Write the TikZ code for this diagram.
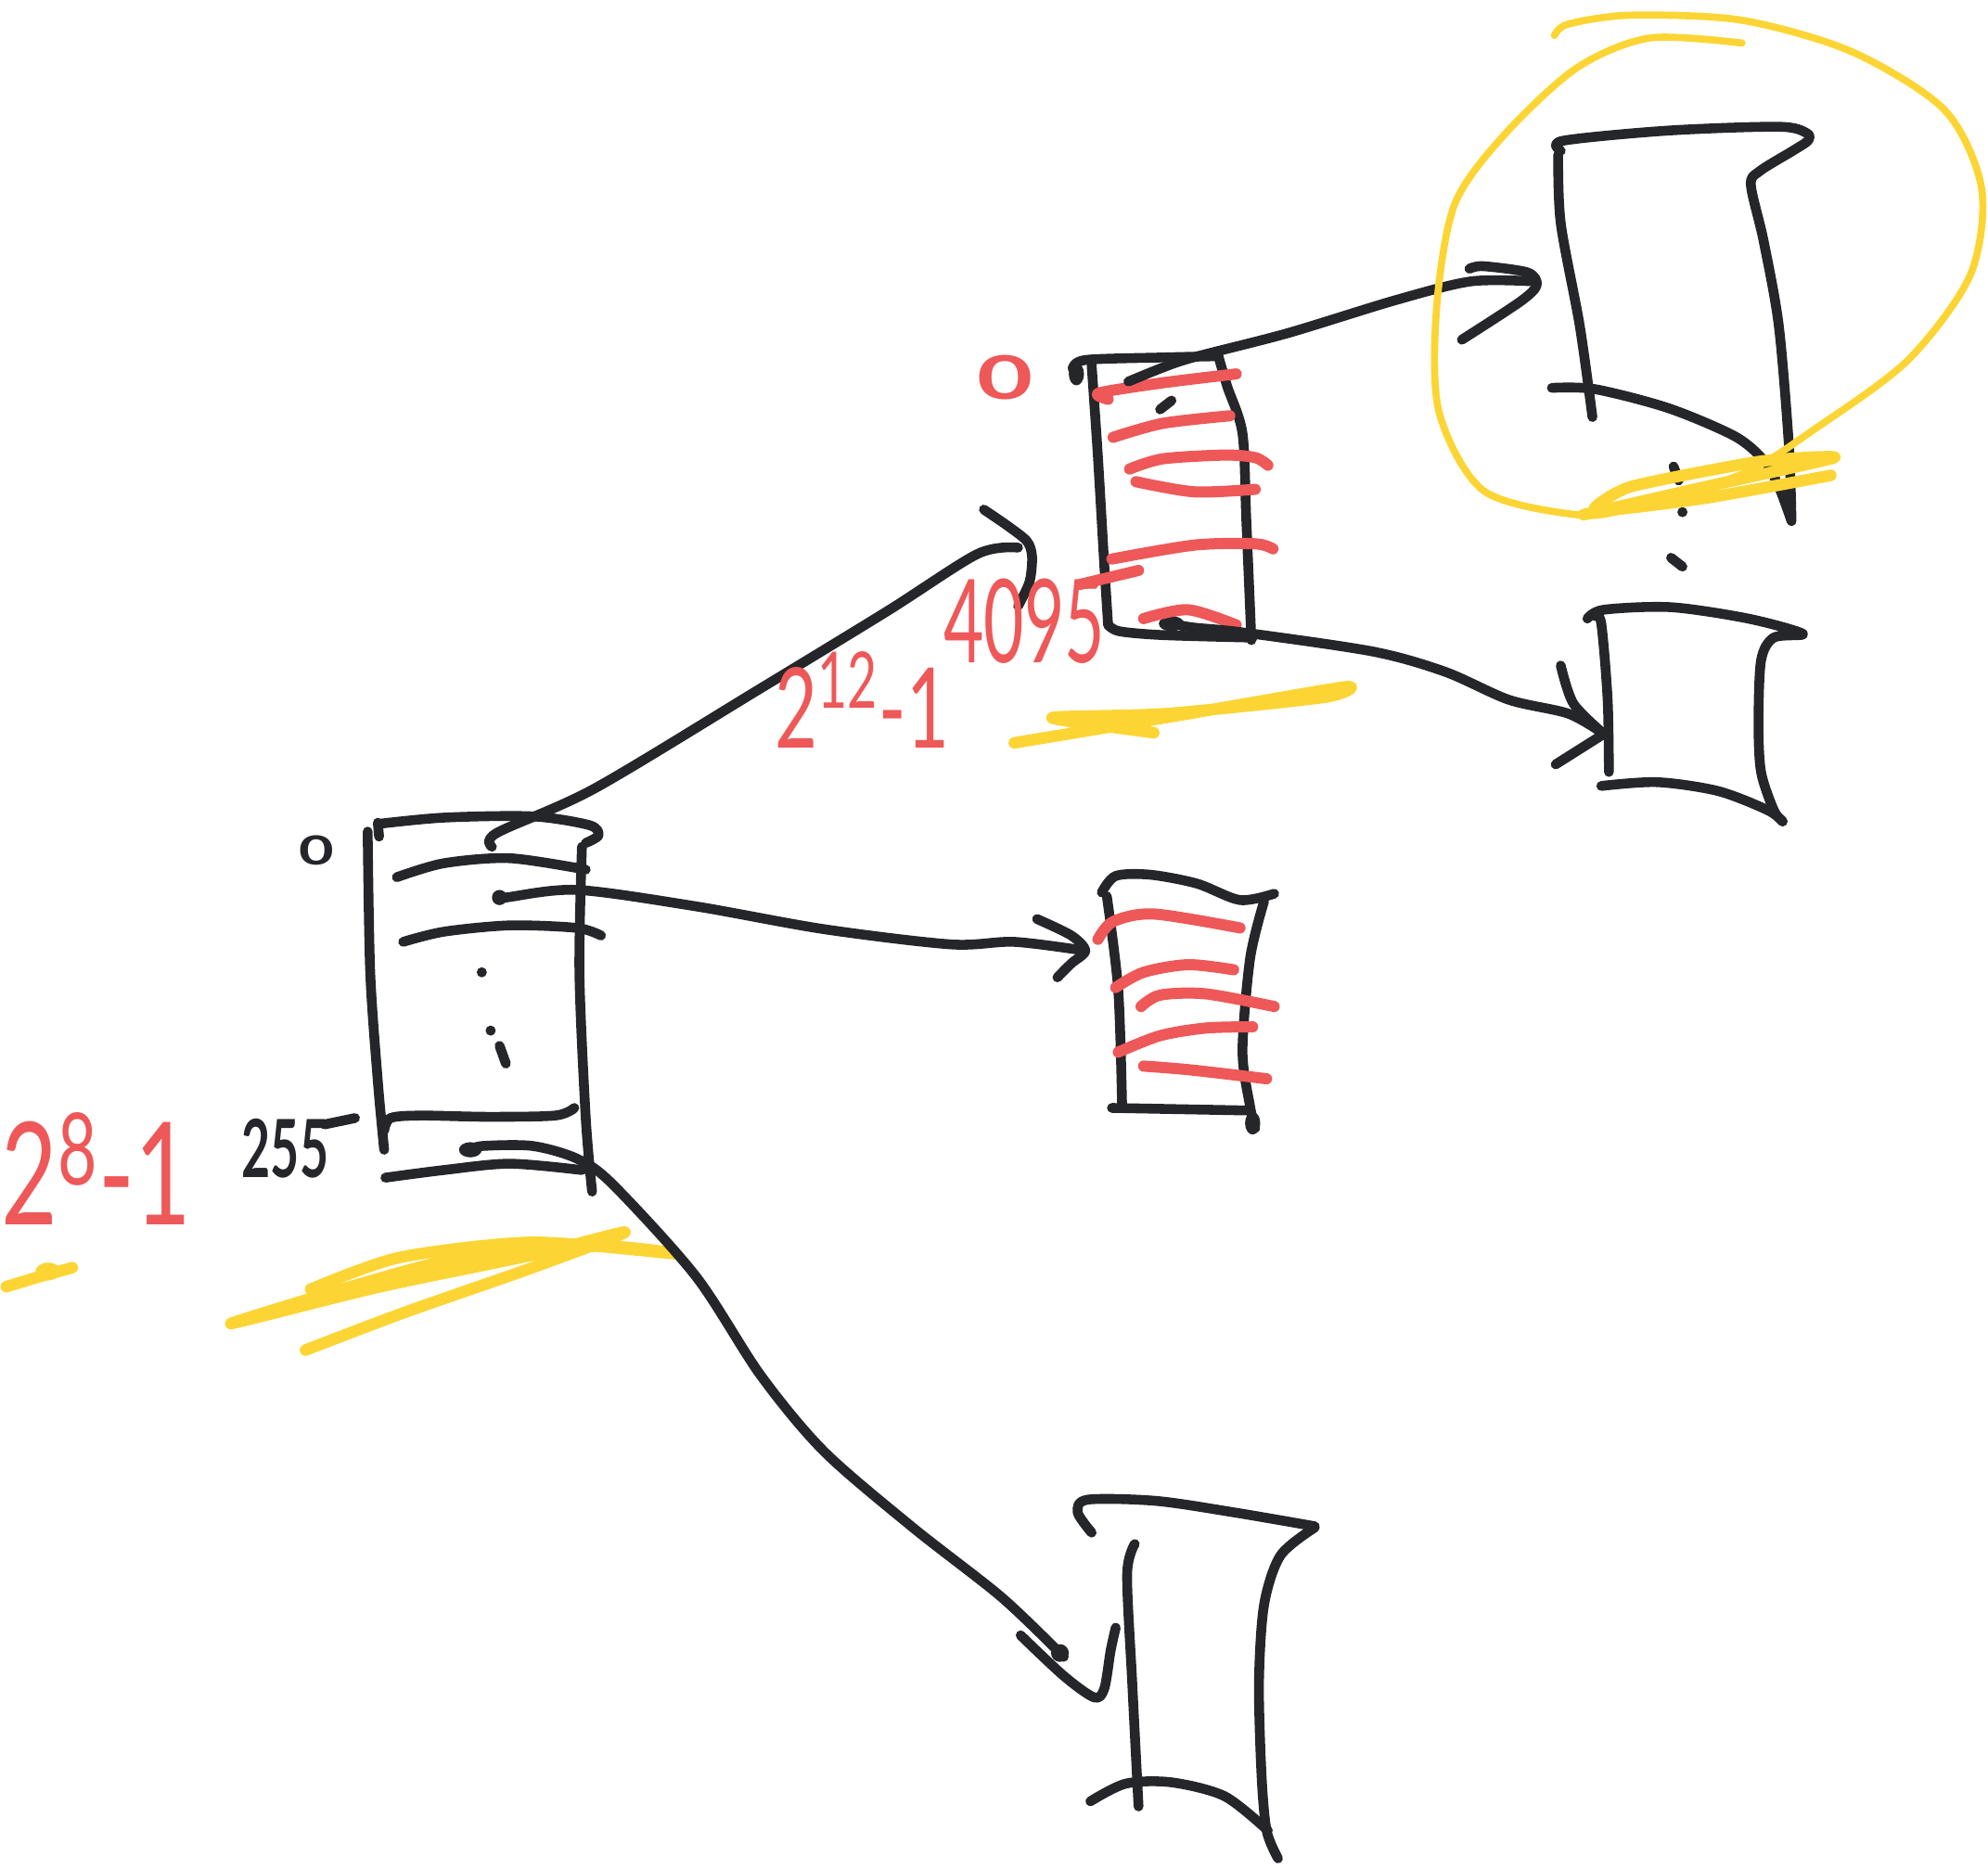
\documentclass[tikz,border=0pt]{standalone}
\usepackage{fontspec}
\setmainfont{Lato}
\usepackage{graphicx}
\definecolor{inkc}{HTML}{25262A}
\definecolor{redc}{HTML}{EE5858}
\definecolor{yelc}{HTML}{FCD535}
\tikzset{
  inkl/.style={draw=inkc, line width=2.2pt, line cap=round, line join=round},
  redl/.style={draw=redc, line width=2.5pt, line cap=round, line join=round},
  yell/.style={draw=yelc, line width=1.6pt, line cap=round, line join=round},
  yelf/.style={draw=yelc, line width=2.6pt, line cap=round, line join=round},
  inktext/.style={text=inkc, inner sep=0pt},
  redtext/.style={text=redc, inner sep=0pt},
}
\begin{document}
\begin{tikzpicture}[x=0.01cm,y=-0.01cm]
\useasboundingbox (0,0) rectangle (1568,1474);
% ---------- named connector ends ----------
\coordinate (a0) at (388,668);
\coordinate (a1) at (394,708);
\coordinate (a2) at (371,907);
\coordinate (btip) at (803,432);
\coordinate (ctip) at (856,750);
\coordinate (dtip) at (839,1307);
\coordinate (b1) at (890,301);
\coordinate (b2) at (924,492);
\coordinate (etip) at (1210,222);
\coordinate (ftip) at (1265,579);

% ---------- box A ----------
\draw[inkl] plot[smooth] coordinates {(298,650) (350,645) (420,644) (465,651) (472,659) (462,665)};
\draw[inkl] (298,649) -- (299,660);
\draw[inkl] plot[smooth] coordinates {(290,656) (292,767) (298,853) (303,907)};
\draw[inkl] plot[smooth] coordinates {(459,668) (457,767) (462,882) (467,940)};
\draw[inkl] plot[smooth] coordinates {(313,692) (350,681) (402,677) (462,686)};
\draw[inkl] plot[smooth] coordinates {(318,743) (350,735) (402,730) (455,732) (474,738)};
\fill[inkc] (380,767) circle (4);
\fill[inkc] (387,813) circle (4);
\draw[inkl] (394,825) -- (399,839);
\draw[inkl] plot[smooth] coordinates {(303,892) (308,882) (332,880) (385,881) (438,880) (453,874)};
\draw[inkl] plot[smooth] coordinates {(304,929) (350,923) (402,918) (459,923)};
\fill[inkc] (a1) circle (6);
\fill[inkc] (a2) ellipse (9 and 6);
\node[inktext] (zeroA) at (250,671) {\fontsize{9}{9}\selectfont\bfseries\scalebox{1.5}[1]{0}};
\node[inktext] (n255) at (225,906) {\fontsize{18}{18}\selectfont\bfseries\scalebox{0.62}[1]{255}};
\draw[inkl] (256,887) -- (280,882);
\node[redtext] (n28) at (76,922) {\fontsize{32}{32}\selectfont\scalebox{0.68}[1]{2\textsuperscript{8}-1}};

% yellow under A
\draw[yelf] (5,1015) -- (28,1008) -- (57,1000);
\fill[yelc] (38,1003) ellipse (10 and 7);
\draw[yelf] plot[smooth, tension=0.45] coordinates {(245,1017) (315,992) (420,980) (532,989) (470,983) (350,995) (182,1044) (300,1015) (420,990) (493,972) (420,1000) (320,1035) (241,1065)};

% ---------- arrow A -> B ----------
\draw[inkl] plot[smooth] coordinates {(a0) (392,657) (469,622) (600,543) (700,482) (771,437) (btip)};
\draw[inkl] plot[smooth] coordinates {(776,402) (795,415) (810,427) (814,439) (812,459) (803,478)};

% ---------- arrow A -> C ----------
\draw[inkl] plot[smooth] coordinates {(a1) (399,708) (455,702) (549,715) (650,733) (750,745) (800,743) (ctip)};
\draw[inkl] plot[smooth] coordinates {(818,725) (845,738) (ctip) (845,760) (834,771)};

% ---------- arrow A -> D ----------
\draw[inkl] plot[smooth] coordinates {(a2) (381,904) (420,904) (455,914) (483,934) (549,1007) (600,1085) (650,1145) (720,1205) (790,1260) (dtip)};
\fill[inkc] (836,1304) circle (7);
\draw[inkl] plot[smooth] coordinates {(805,1290) (839,1322) (863,1339) (871,1332) (876,1302) (880,1284)};

% ---------- box B ----------
\draw[inkl] plot[smooth] coordinates {(846,291) (856,284) (917,282) (961,281)};
\fill[inkc] (849,295) ellipse (6 and 9);
\draw[inkl] plot[smooth] coordinates {(861,288) (866,361) (871,446) (874,493)};
\draw[inkl] plot[smooth] coordinates {(961,281) (968,305) (980,342) (983,410) (987,505)};
\draw[inkl] plot[smooth] coordinates {(874,493) (883,498) (917,501) (988,503)};
\draw[inkl] (915,323) -- (924,316);
\fill[inkc] (b2) ellipse (10 and 6);
\draw[redl] plot[smooth] coordinates {(874,315) (867,310) (917,302) (975,295)};
\draw[redl] plot[smooth] coordinates {(878,345) (917,334) (970,328)};
\draw[redl] plot[smooth] coordinates {(891,370) (917,362) (966,359) (990,361) (1000,367)};
\draw[redl] plot[smooth] coordinates {(896,380) (942,388) (990,386)};
\draw[redl] plot[smooth] coordinates {(877,441) (942,430) (990,429) (1004,433)};
\draw[redl] plot[smooth] coordinates {(902,488) (937,481) (975,493)};
\node[redtext] (zeroB) at (793,298) {\fontsize{13.5}{13.5}\selectfont\bfseries\scalebox{1.6}[1]{0}};
\node[redtext] (n4095) at (808,490) {\fontsize{26}{26}\selectfont\scalebox{0.6}[1]{4095}};
\draw[redl] (852,461) -- (898,450);
\node[redtext] (n212) at (680,552) {\fontsize{25}{25}\selectfont\scalebox{0.66}[1]{2\textsuperscript{12}-1}};
% yellow under B
\draw[yelf] plot[smooth, tension=0.4] coordinates {(800,586) (920,566) (1060,542) (1045,550) (920,563) (830,566) (880,574) (910,578)};

% ---------- arrow B -> E ----------
\draw[inkl] plot[smooth] coordinates {(b1) (917,290) (941,282) (1015,263) (1100,237) (1160,222) (etip)};
\draw[inkl] plot[smooth] coordinates {(1159,212) (1170,210) (1205,215) (1212,225) (1199,238) (1153,268)};

% ---------- arrow B -> F ----------
\draw[inkl] plot[smooth] coordinates {(b2) (941,495) (981,499) (1083,514) (1140,530) (1190,552) (1237,563) (ftip)};
\draw[inkl] plot[smooth] coordinates {(1231,525) (1241,555) (ftip)};
\draw[inkl] (1227,603) -- (ftip);

% ---------- box C ----------
\draw[inkl] plot[smooth] coordinates {(869,704) (880,691) (907,690) (944,697) (978,710) (1005,705)};
\draw[inkl] plot[smooth] coordinates {(873,707) (882,781) (885,871)};
\draw[inkl] (877,874) -- (983,876);
\draw[inkl] plot[smooth] coordinates {(997,711) (986,756) (980,829) (986,873) (990,890)};
\fill[inkc] (988,886) ellipse (6 and 9);
\draw[redl] plot[smooth] coordinates {(866,741) (878,727) (910,721) (978,732)};
\draw[redl] plot[smooth] coordinates {(880,779) (902,767) (937,761) (973,765)};
\draw[redl] plot[smooth] coordinates {(900,794) (915,785) (951,784) (1005,794)};
\draw[redl] plot[smooth] coordinates {(882,830) (915,817) (951,811) (988,810)};
\draw[redl] plot[smooth] coordinates {(902,841) (939,844) (999,851)};

% ---------- box D ----------
\draw[inkl] plot[smooth] coordinates {(861,1209) (850,1193) (858,1183) (912,1184) (973,1193) (1037,1204)};
\draw[inkl] plot[smooth] coordinates {(1037,1205) (1010,1227) (997,1266) (993,1327) (995,1400) (999,1444) (1008,1466)};
\draw[inkl] plot[smooth] coordinates {(895,1218) (889,1242) (893,1327) (898,1425)};
\draw[inkl] plot[smooth] coordinates {(860,1421) (888,1407) (924,1406) (966,1417) (1000,1444)};

% ---------- box E ----------
\draw[inkl] plot[smooth] coordinates {(1231,119) (1233,111) (1316,103) (1403,100) (1425,105) (1426,111) (1414,119) (1388,135) (1381,146) (1391,190) (1403,257) (1411,352) (1413,411)};
\draw[inkl] plot[smooth] coordinates {(1229,122) (1231,176) (1246,257) (1256,329)};
\draw[inkl] plot[smooth] coordinates {(1224,306) (1258,307) (1316,322) (1368,344) (1391,363) (1403,384) (1413,411)};
% dots
\draw[inkl] (1320,368) -- (1324,379);
\fill[inkc] (1327,404) circle (4);
\draw[inkl] (1318,440) -- (1327,447);

% ---------- box F ----------
\draw[inkl] plot[smooth] coordinates {(1252,488) (1265,481) (1318,479) (1379,488) (1422,500) (1399,503) (1389,521) (1387,571) (1389,609) (1399,639) (1406,648)};
\draw[inkl] plot[smooth] coordinates {(1258,486) (1263,492) (1268,552) (1269,609)};
\draw[inkl] plot[smooth] coordinates {(1263,620) (1307,617) (1355,624) (1394,639) (1406,648)};

% ---------- yellow highlight round E ----------
\draw[yell] plot[smooth] coordinates {(1226,28) (1237,19) (1286,12) (1374,16) (1461,41) (1534,87) (1563,149) (1554,217) (1505,284) (1432,338) (1374,374) (1286,401) (1243,406) (1170,387) (1135,325) (1133,244) (1147,162) (1185,108) (1243,54) (1301,30) (1374,34)};
\draw[yelf] plot[smooth, tension=0.35] coordinates {(1249,406) (1345,384) (1447,361) (1388,364) (1286,384) (1258,403) (1345,393) (1444,375)};
\end{tikzpicture}
\end{document}
